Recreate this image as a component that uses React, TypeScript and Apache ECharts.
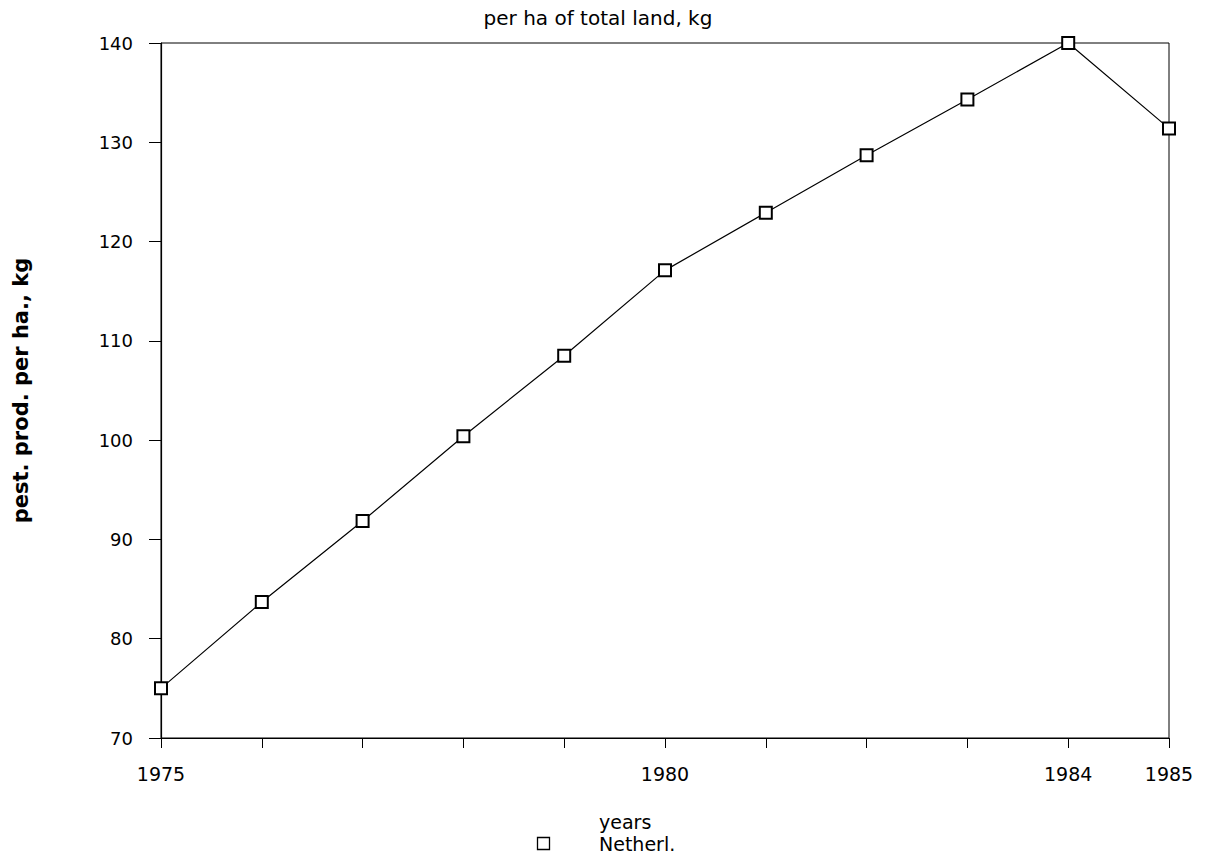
import React, { useEffect, useRef } from "react";
import * as echarts from "echarts";

const years = [1975, 1976, 1977, 1978, 1979, 1980, 1981, 1982, 1983, 1984, 1985];
const netherlands = [75.0, 83.7, 91.85, 100.4, 108.5, 117.1, 122.9, 128.7, 134.3, 140.0, 131.4];
const labeledYears = [1975, 1980, 1984, 1985];
const yTicks = [70, 80, 90, 100, 110, 120, 130, 140];

const FONT = "DejaVu Sans";

export default function App() {
  const ref = useRef<HTMLDivElement>(null);
  useEffect(() => {
    if (!ref.current) return;
    const chart = echarts.init(ref.current, null, { renderer: "svg" });
    chart.setOption({
      animation: false,
      backgroundColor: "#fff",
      grid: {
        left: 161,
        right: 36,
        top: 43,
        bottom: 119,
        show: true,
        borderColor: "#000",
        borderWidth: 1,
      },
      xAxis: {
        type: "value",
        min: 1975,
        max: 1985,
        interval: 1,
        axisLine: { show: true, lineStyle: { color: "#000", width: 1.2 } },
        axisTick: { show: true, length: 10, lineStyle: { color: "#000" } },
        splitLine: { show: false },
        axisLabel: {
          margin: 26,
          color: "#000",
          fontFamily: FONT,
          fontSize: 19,
          formatter: (v: number) => (labeledYears.includes(v) ? String(v) : ""),
        },
      },
      yAxis: {
        type: "value",
        min: yTicks[0],
        max: yTicks[yTicks.length - 1],
        interval: 10,
        name: "pest. prod. per ha., kg",
        nameLocation: "middle",
        nameRotate: 90,
        nameGap: 130,
        nameTextStyle: { color: "#000", fontFamily: FONT, fontSize: 21, fontWeight: "bold" },
        axisLine: { show: true, lineStyle: { color: "#000", width: 1.2 } },
        axisTick: { show: true, length: 12, lineStyle: { color: "#000" } },
        splitLine: { show: false },
        axisLabel: {
          margin: 28,
          color: "#000",
          fontFamily: FONT,
          fontSize: 18,
        },
      },
      series: [
        {
          name: "Netherl.",
          type: "line",
          data: years.map((y, i) => [y, netherlands[i]]),
          symbol: "emptyRect",
          symbolSize: 12,
          lineStyle: { color: "#000", width: 1.2 },
          itemStyle: { color: "#000", borderColor: "#000", borderWidth: 1.3 },
          z: 5,
        },
      ],
      graphic: [
        {
          type: "text",
          x: 598,
          y: 8,
          style: {
            text: "per ha of total land, kg",
            fill: "#000",
            fontFamily: FONT,
            fontSize: 20,
            textAlign: "center",
            textVerticalAlign: "top",
          },
        },
        {
          type: "text",
          x: 599,
          y: 812,
          style: {
            text: "years",
            fill: "#000",
            fontFamily: FONT,
            fontSize: 19,
            textAlign: "left",
            textVerticalAlign: "top",
          },
        },
        {
          type: "rect",
          shape: { x: 537.5, y: 837.5, width: 12, height: 12 },
          style: { fill: "#fff", stroke: "#000", lineWidth: 1.3 },
        },
        {
          type: "text",
          x: 599,
          y: 834,
          style: {
            text: "Netherl.",
            fill: "#000",
            fontFamily: FONT,
            fontSize: 19,
            textAlign: "left",
            textVerticalAlign: "top",
          },
        },
      ],
    });
    return () => chart.dispose();
  }, []);
  return (
    <div
      ref={ref}
      style={{ position: "fixed", left: 0, top: 0, width: 1205, height: 857, background: "#fff" }}
    />
  );
}
